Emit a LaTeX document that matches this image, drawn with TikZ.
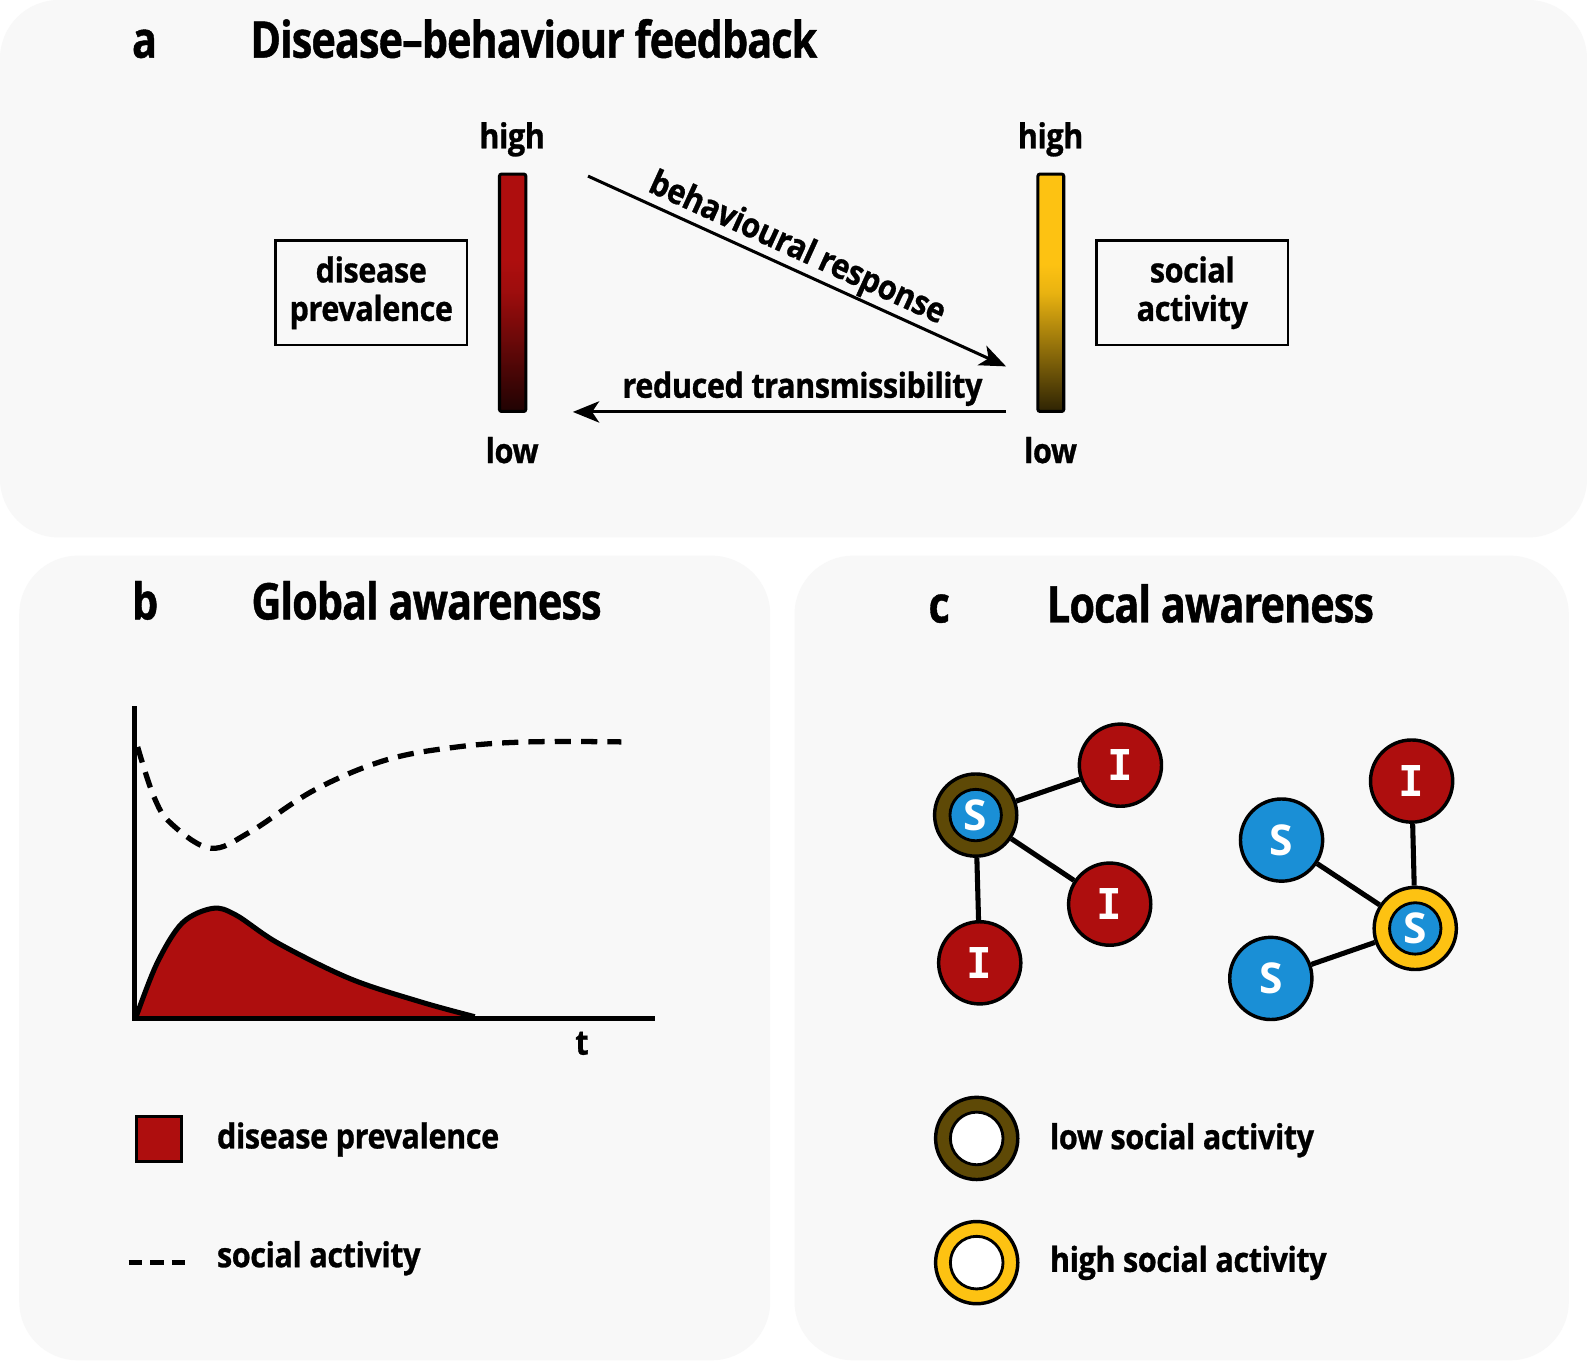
\documentclass[tikz,border=0pt]{standalone}
\usepackage{fontspec}
\setmainfont{Open Sans}[FakeStretch=0.82, LetterSpace=-2, FakeBold=0.8]
\newfontfamily\lblfont{Open Sans}[FakeStretch=0.89, LetterSpace=-1.3, FakeBold=0.8]
\newfontfamily\nodefont{Open Sans}
\newfontfamily\ifont{DejaVu Sans Mono}
\usetikzlibrary{arrows.meta}
\definecolor{panelbg}{HTML}{F8F8F8}
\definecolor{sred}{HTML}{AE0E0E}
\definecolor{sblue}{HTML}{1A8FD6}
\definecolor{sbrown}{HTML}{5E4906}
\definecolor{sgold}{HTML}{FDC212}
\colorlet{rdk}{sred!18!black}
\colorlet{rmid}{sred!90!black}
\colorlet{gdk}{sgold!18!black}
\colorlet{gmid}{sgold!92!black}
\pgfdeclareverticalshading{redbar}{100bp}{color(0bp)=(rdk); color(25bp)=(rdk); color(50bp)=(rmid); color(57bp)=(sred); color(75bp)=(sred); color(100bp)=(sred)}
\pgfdeclareverticalshading{goldbar}{100bp}{color(0bp)=(gdk); color(25bp)=(gdk); color(50bp)=(gmid); color(56bp)=(sgold); color(75bp)=(sgold); color(100bp)=(sgold)}
\begin{document}
\begin{tikzpicture}[x=0.5pt,y=-0.5pt,
  panel/.style={fill=panelbg, rounded corners=29pt},
  lbl/.style={font=\lblfont\fontsize{17}{19}\selectfont\bfseries, inner sep=0pt},
  ttl/.style={font=\fontsize{25}{28}\selectfont\bfseries, inner sep=0pt},
  textbox/.style={draw, line width=1.3pt, minimum width=94.5pt, minimum height=51.5pt,
    align=center, font=\lblfont\fontsize{17}{19}\selectfont\bfseries, inner sep=0pt},
  arr/.style={line width=1.5pt, -{Stealth[length=13pt, width=10.5pt, inset=3.5pt]}},
  vbar/.style={draw, line width=1.5pt, rounded corners=1pt},
  edge/.style={line width=2.5pt},
  inode/.style={circle, draw, line width=1.7pt, fill=sred, minimum size=40.6pt, inner sep=0pt,
    text=white, font=\ifont\bfseries\fontsize{21}{21}\selectfont},
  snode/.style={circle, draw, line width=1.7pt, fill=sblue, minimum size=40.6pt, inner sep=0pt,
    text=white, font=\nodefont\bfseries\fontsize{21}{21}\selectfont},
  ring/.style={circle, draw, line width=1.7pt, fill=#1, minimum size=40.6pt, inner sep=0pt},
  sinner/.style={circle, draw, line width=1.4pt, fill=sblue, minimum size=25.4pt, inner sep=0pt,
    text=white, font=\nodefont\bfseries\fontsize{21}{21}\selectfont},
  hole/.style={circle, draw, line width=1.4pt, fill=white, minimum size=26pt, inner sep=0pt},
]
\useasboundingbox (0,0) rectangle (1568,1345);
\fill[white] (0,0) rectangle (1568,1345);
% panels
\fill[panel] (0,0) rectangle (1568,531);
\fill[panel] (19,549) rectangle (761,1344);
\fill[panel] (785,549) rectangle (1550,1344);

% ---------- panel a ----------
\node[ttl, anchor=base west] (la) at (130,57) {a};
\node[ttl, anchor=base west] (ta) at (247,57) {Disease–behaviour feedback};

\shadedraw[vbar, shading=redbar] (493.5,172) rectangle (519.5,406.5);
\shadedraw[vbar, shading=goldbar] (1025.5,172) rectangle (1051,406.5);

\node[lbl, anchor=base] (hl) at (506,146.5) {high};
\node[lbl, anchor=base] (ll) at (506,457.5) {low};
\node[lbl, anchor=base] (hr) at (1038,146.5) {high};
\node[lbl, anchor=base] (lr) at (1038,457.5) {low};

\node[textbox] (bdp) at (366.8,289.2) {disease\\prevalence};
\node[textbox] (bsa) at (1178,289.2) {social\\activity};

\coordinate (brs) at (581,174);
\coordinate (bre) at (994,362);
\draw[arr] (brs) -- (bre) node[lbl, pos=0.48, sloped, above=0.5pt] (brl) {behavioural response};

\coordinate (rts) at (994,407);
\coordinate (rte) at (566,407);
\draw[arr] (rts) -- (rte) node[lbl, pos=0.47, anchor=base, yshift=7pt] (rtl) {reduced transmissibility};

% ---------- panel b ----------
\node[ttl, anchor=base west] (lb) at (130,612) {b};
\node[ttl, anchor=base west] (tb) at (248,612) {Global awareness};

\fill[sred] plot[smooth, tension=0.55] coordinates {(134,1006) (155,952) (180,912) (210,897.5) (233,904) (275,932) (346,967) (416,990) (469,1004.5)} -- cycle;
\draw[line width=2.5pt, line join=round] plot[smooth, tension=0.55] coordinates {(134,1006) (155,952) (180,912) (210,897.5) (233,904) (275,932) (346,967) (416,990) (469,1004.5)};
\draw[line width=2.4pt] (133,698) -- (133,1006) -- (647,1006);
\draw[line width=2.6pt, dash pattern=on 8pt off 5pt] plot[smooth, tension=0.6] coordinates {(136,738) (152,787) (169,813.6) (208,838) (247,822) (310.6,780.6) (381,751) (451.6,738) (522,733) (614,733)};

\node[lbl, anchor=base] (tl) at (575,1042) {t};

\node[draw, fill=sred, line width=1.5pt, minimum size=22pt, inner sep=0pt] (lgsq) at (157,1125.5) {};
\node[lbl, anchor=base west] (lgdp) at (214,1134.7) {disease prevalence};
\coordinate (lgd1) at (127,1247);
\coordinate (lgd2) at (187,1247);
\draw[line width=2.5pt, dash pattern=on 6.6pt off 4.1pt] (lgd1) -- (lgd2);
\node[lbl, anchor=base west] (lgsa) at (214,1252) {social activity};

% ---------- panel c ----------
\node[ttl, anchor=base west] (lc) at (917,615) {c};
\node[ttl, anchor=base west] (tc) at (1034,615) {Local awareness};

\node[ring=sbrown] (r1) at (964,805.3) {};
\node[sinner] (s1) at (964,805.3) {S};
\node[inode] (i1) at (1107,756) {I};
\node[inode] (i2) at (1096.4,893.3) {I};
\node[inode] (i3) at (968,951.3) {I};
\draw[edge] (r1) -- (i1);
\draw[edge] (r1) -- (i2);
\draw[edge] (r1) -- (i3);

\node[inode] (i4) at (1394.7,771.7) {I};
\node[snode] (s2) at (1266.2,830) {S};
\node[ring=sgold] (r2) at (1398.3,917.3) {};
\node[sinner] (s3) at (1398.3,917.3) {S};
\node[snode] (s4) at (1255.6,966.7) {S};
\draw[edge] (i4) -- (r2);
\draw[edge] (s2) -- (r2);
\draw[edge] (s4) -- (r2);

\node[ring=sbrown] (lr1) at (965,1124.8) {};
\node[hole] (lh1) at (965,1124.8) {};
\node[lbl, anchor=base west] (llow) at (1037,1135.4) {low social activity};
\node[ring=sgold] (lr2) at (965,1247.5) {};
\node[hole] (lh2) at (965,1247.5) {};
\node[lbl, anchor=base west] (lhigh) at (1037,1256.6) {high social activity};
\end{tikzpicture}
\end{document}
